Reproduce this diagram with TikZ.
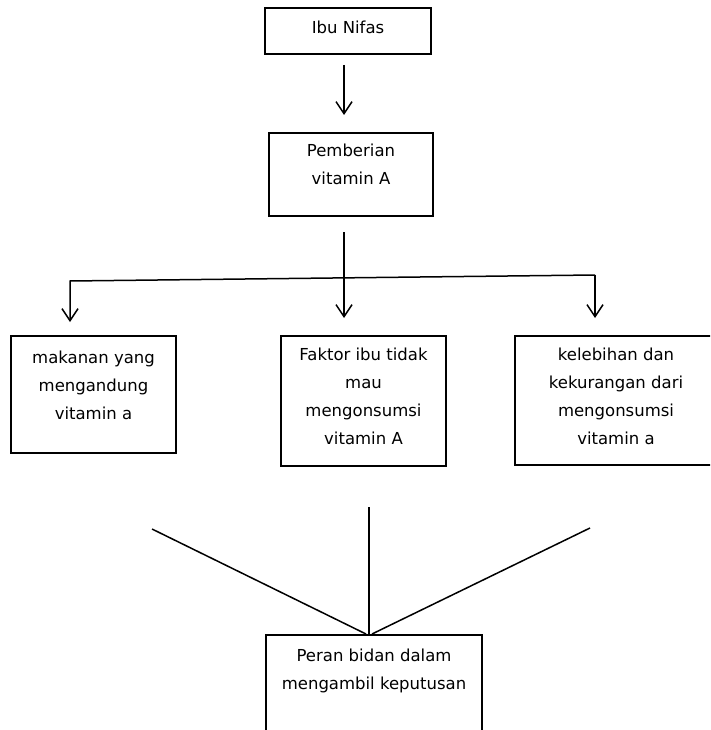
\documentclass[tikz,border=0pt]{standalone}
\usepackage{fontspec}
\setmainfont{DejaVu Sans}
\usetikzlibrary{arrows.meta}
\usetikzlibrary{positioning}
\tikzset{box node/.style={draw,line width=2pt,anchor=north,align=center,inner xsep=0pt,inner ysep=0pt,font=\fontsize{16.5}{28}\selectfont},
  link/.style={line width=1.5pt},
  arrow/.style={link,-{Straight Barb[length=12pt,width=16pt]}},}

\begin{document}
\begin{tikzpicture}[x=1pt,y=-1pt]
    \useasboundingbox (0,0) rectangle (710,730);
    \fill[white] (0,0) rectangle (710,730);
    \clip (0,0) rectangle (710,730);

    \node[box node,minimum width=166pt,text height=26pt,text depth=20pt] (nifas) at (348,7) {Ibu Nifas};
    \node[box node,minimum width=164pt,text height=51.5pt,text depth=31.5pt] (pemberian) [below=77pt of nifas,xshift=3pt] {Pemberian\\ vitamin A};
    \node[box node,minimum width=165pt,text height=83pt,text depth=34pt] (makanan) at (93.5,335) {makanan yang\\ mengandung\\ vitamin a};
    \node[box node,minimum width=165pt,text height=108.5pt,text depth=21.5pt] (faktor) at (363.5,335) {Faktor ibu tidak\\ mau\\ mengonsumsi\\ vitamin A};
    \node[box node,minimum width=202pt,text height=108pt,text depth=21pt] (kelebihan) at (616,335) {kelebihan dan\\ kekurangan dari\\ mengonsumsi\\ vitamin a};
    \node[box node,minimum width=216pt,text height=54pt,text depth=100pt] (peran) at (374,634) {Peran bidan dalam\\ mengambil keputusan};

    \coordinate (split) at (344,278);
    \coordinate (lturn) at (70,281);
    \coordinate (rturn) at (595,275);
    \coordinate (ltail) at (152,529);
    \coordinate (mtail) at (369,507);
    \coordinate (rtail) at (590,528);

    \draw[arrow,shorten <=10pt,shorten >=17pt] ([xshift=-4pt]nifas.south) -- ([xshift=-4pt]nifas.south |- pemberian.north);
    \draw[arrow,shorten <=15pt,shorten >=17pt] (split |- pemberian.south) -- (split |- faktor.north);
    \draw[arrow,shorten >=13pt] (rturn) -- (lturn) -- (lturn |- makanan.north);
    \draw[arrow,shorten >=17pt] (rturn) -- (rturn |- kelebihan.north);

    \path[link]
    (ltail) edge ([xshift=-8pt]peran.north)
    (mtail) edge ([xshift=-5pt]peran.north)
    (rtail) edge ([xshift=-2pt]peran.north);
\end{tikzpicture}
\end{document}
